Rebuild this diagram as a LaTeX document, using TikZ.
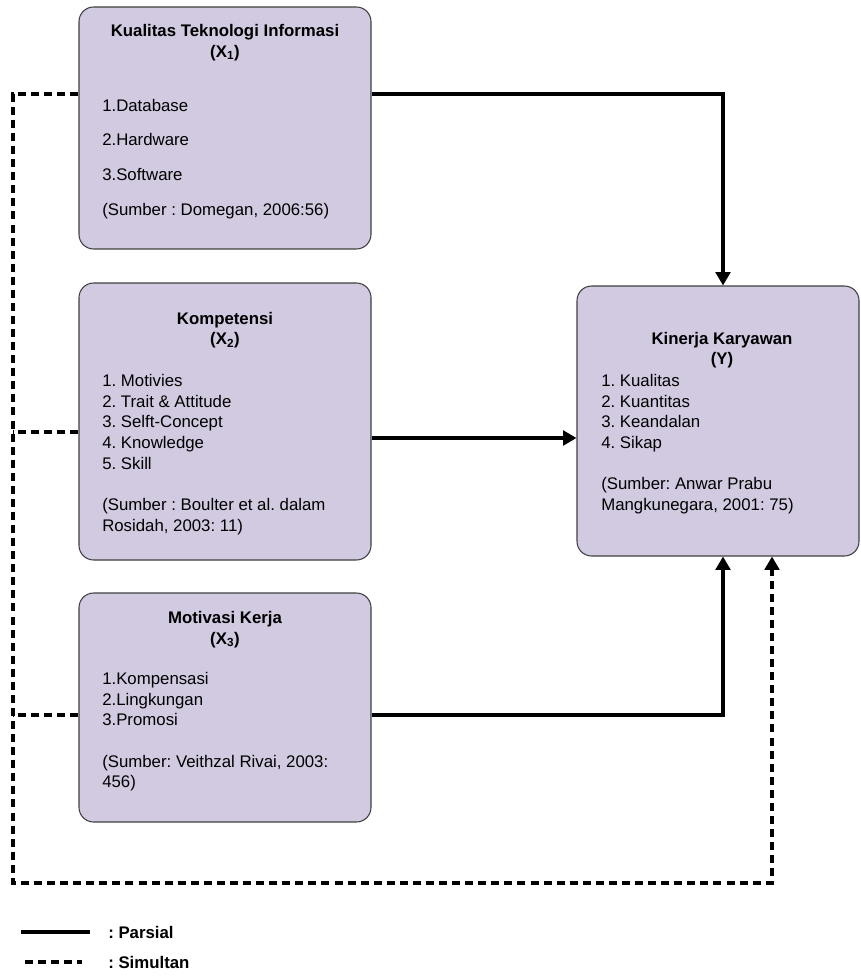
\documentclass[tikz,border=0pt]{standalone}
\usepackage{fontspec}
\setmainfont{Liberation Sans}
\usepackage{xcolor}
\usetikzlibrary{arrows.meta,fit}
\frenchspacing

\definecolor{ungu}{RGB}{210,202,224}
\tikzset{
  kotak/.style={draw=black!75, line width=0.8pt, fill=ungu, rounded corners=11pt, inner sep=0pt},
  judul/.style={align=center, inner sep=0pt, font=\fontsize{12.6}{15.5}\selectfont\bfseries},
  isi/.style={align=left, anchor=north west, inner sep=0pt, font=\fontsize{12.6}{15.5}\selectfont},
  garis/.style={line width=2.3pt},
  putus/.style={line width=2.3pt, dash pattern=on 6pt off 3.8pt},
  panah/.style={-{Triangle[length=10pt,width=11pt]}},
}

\begin{document}
\begin{tikzpicture}[x=0.75pt,y=-0.75pt] % kerangka pemikiran
\useasboundingbox (0,0) rectangle (860,980);

\node[kotak, fit={(79,7) (371,249)}] (kualitas) {};
\node[kotak, fit={(79,283) (371,560)}] (kompetensi) {};
\node[kotak, fit={(79,593) (371,822)}] (motivasi) {};
\node[kotak, fit={(577,286) (859,556)}] (kinerja) {};

\node[judul] (kualitasjudul) at (225,42.5) {Kualitas Teknologi Informasi\\(X\textsubscript{1})};
\node[isi] (kualitasisi) at (102,99) {1.Database\\[10.4pt] 2.Hardware\\[10.4pt] 3.Software\\[10.4pt] (Sumber : Domegan, 2006:56)};

\node[judul] (kompetensijudul) at (225,330) {Kompetensi\\(X\textsubscript{2})};
\node[isi] (kompetensiisi) at (102,374) {1. Motivies\\ 2. Trait \& Attitude\\ 3. Selft-Concept\\ 4. Knowledge\\ 5. Skill\\[15.5pt] (Sumber : Boulter et al. dalam\\ Rosidah, 2003: 11)};

\node[judul] (motivasijudul) at (225,629.5) {Motivasi Kerja\\(X\textsubscript{3})};
\node[isi] (motivasiisi) at (102,672) {1.Kompensasi\\ 2.Lingkungan\\ 3.Promosi\\[15.5pt] (Sumber: Veithzal Rivai, 2003:\\ 456)};

\node[judul] (kinerjajudul) at (722,350) {Kinerja Karyawan\\(Y)};
\node[isi] (kinerjaisi) at (601,374) {1. Kualitas\\ 2. Kuantitas\\ 3. Keandalan\\ 4. Sikap\\[15.5pt] (Sumber: Anwar Prabu\\ Mangkunegara, 2001: 75)};

% parsial
\draw[garis, panah] (kualitas.east |- 0,94) -| (kinerja.north -| 723,0);
\draw[garis, panah] (kompetensi.east |- 0,438) -- (kinerja.west |- 0,438);
\draw[garis, panah] (motivasi.east |- 0,715) -| (kinerja.south -| 723,0);

% simultan
\draw[putus, panah] (kualitas.west |- 0,94) -- (13,94) -- (13,883) -| (kinerja.south -| 772,0);
\draw[putus] (kompetensi.west |- 0,432) -- (13,432);
\draw[putus] (motivasi.west |- 0,715) -- (13,715);

% keterangan
\draw[garis] (21,932) -- (90,932);
\node[anchor=west, inner sep=0pt, font=\fontsize{12.6}{15.5}\selectfont\bfseries] (parsial) at (108,932) {: Parsial};
\draw[putus] (25,962) -- (82,962);
\node[anchor=west, inner sep=0pt, font=\fontsize{12.6}{15.5}\selectfont\bfseries] (simultan) at (108,962) {: Simultan};
\end{tikzpicture}
\end{document}
